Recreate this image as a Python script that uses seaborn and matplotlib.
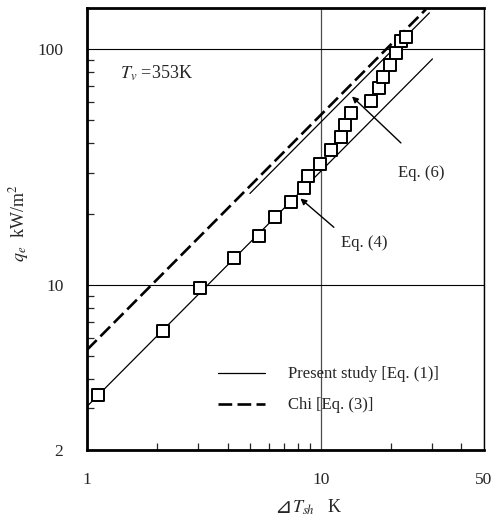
import numpy as np
import pandas as pd
import seaborn as sns
import matplotlib.pyplot as plt
from matplotlib.ticker import FixedLocator, NullFormatter, FixedFormatter

# measured points (superheat K, heat flux kW/m2)
dT_data = [1.11, 2.11, 3.05, 4.27, 5.46, 6.38, 7.44, 8.48, 8.85, 9.93, 11.07,
           12.18, 12.70, 13.44, 16.37, 17.76, 18.42, 19.80, 21.00, 22.06, 23.10]
q_data = [3.43, 6.39, 9.74, 12.99, 16.21, 19.53, 22.55, 25.79, 29.18, 32.63, 37.29,
          42.35, 47.63, 53.8, 60.26, 68.7, 76.5, 86.3, 96.8, 108.5, 112.8]

# correlation lines
dT_eq4 = [1.0, 30.1]
q_eq4 = [3.06, 91.2]
dT_eq6 = [4.98, 29.2]
q_eq6 = [24.5, 143.0]
dT_chi = [1.0, 28.2]
q_chi = [5.32, 148.0]

# annotation anchors (arrow head, arrow tail, text)
eq6_head, eq6_tail, eq6_text = (13.35, 64.4), (22.5, 39.4), (21.4, 30.0)
eq4_head, eq4_tail, eq4_text = (8.02, 23.75), (11.63, 17.3), (12.18, 15.09)

x_ticks = [1, 10, 50]
y_ticks = [2, 10, 100]
x_minor = [2, 3, 4, 5, 6, 7, 8, 9, 20, 30, 40]
y_minor = [3, 4, 5, 6, 7, 8, 9, 20, 30, 40, 50, 60, 70, 80, 90]

sns.set_style("ticks")
plt.rcParams["font.family"] = ["Liberation Serif", "DejaVu Sans"]
plt.rcParams["mathtext.fontset"] = "stix"
plt.rcParams["font.size"] = 12

fig = plt.figure(figsize=(5.02, 5.18), dpi=100)
ax = fig.add_axes([0.1733, 0.1313, 0.7908, 0.8533])

sns.lineplot(x=dT_eq4, y=q_eq4, ax=ax, color="black", lw=0.9,
             label="Present study [Eq. (1)]")
sns.lineplot(x=dT_chi, y=q_chi, ax=ax, color="black", lw=1.9,
             linestyle=(0, (5.2, 2.0)), label="Chi [Eq. (3)]")
sns.lineplot(x=dT_eq6, y=q_eq6, ax=ax, color="black", lw=0.9, legend=False)
sns.scatterplot(x=dT_data, y=q_data, ax=ax, marker="s", s=70,
                facecolor="white", edgecolor="black", linewidth=1.4, zorder=5)

ax.set_xscale("log")
ax.set_yscale("log")
ax.set_xlim(1, 50)
ax.set_ylim(2, 150)

ax.xaxis.set_major_locator(FixedLocator(x_ticks))
ax.xaxis.set_major_formatter(FixedFormatter([str(v) for v in x_ticks]))
ax.yaxis.set_major_locator(FixedLocator(y_ticks))
ax.yaxis.set_major_formatter(FixedFormatter([str(v) for v in y_ticks]))
ax.xaxis.set_minor_locator(FixedLocator(x_minor))
ax.yaxis.set_minor_locator(FixedLocator(y_minor))
ax.xaxis.set_minor_formatter(NullFormatter())
ax.yaxis.set_minor_formatter(NullFormatter())

ax.tick_params(which="major", length=0, labelsize=12.5)
ax.tick_params(axis="x", which="major", pad=16)
ax.tick_params(axis="y", which="major", pad=17)
ax.tick_params(which="minor", direction="in", length=5, width=0.9,
               top=False, right=False)

ax.xaxis.grid(True, which="major", color="0.3", lw=0.9)
ax.yaxis.grid(True, which="major", color="black", lw=0.8)
ax.set_axisbelow(True)

for side in ["left", "bottom", "top"]:
    ax.spines[side].set_linewidth(2.0)
ax.spines["right"].set_linewidth(1.0)
for sp in ax.spines.values():
    sp.set_visible(True)
    sp.set_color("black")

# x label in two pieces: the triangle glyph needs DejaVu Sans
ax.set_xlabel("")
ax.text(0.516, -0.142, "⊿", transform=ax.transAxes, ha="right",
        va="baseline", fontsize=15, family="DejaVu Sans", style="oblique")
ax.text(0.516, -0.142, "$T_{sh}$   K", transform=ax.transAxes, ha="left",
        va="baseline", fontsize=13)
ax.set_ylabel("$q_e$  kW/m$^2$", fontsize=13)
ax.yaxis.set_label_coords(-0.142, 0.514)

ax.text(0.083, 0.853, "$T_v$ =353K", transform=ax.transAxes,
        fontsize=13, va="center", ha="left")

arrow = dict(arrowstyle="-|>", color="black", lw=1.0, mutation_scale=9)
ax.annotate("", xy=eq6_head, xytext=eq6_tail, arrowprops=arrow)
ax.annotate("", xy=eq4_head, xytext=eq4_tail, arrowprops=arrow)
ax.text(*eq6_text, "Eq. (6)", fontsize=12, va="center", ha="left")
ax.text(*eq4_text, "Eq. (4)", fontsize=12, va="center", ha="left")

ax.legend(loc="center left", bbox_to_anchor=(0.33, 0.136), frameon=False,
          borderpad=0, borderaxespad=0, handlelength=2.8, handletextpad=1.4,
          labelspacing=0.9, fontsize=12)

plt.savefig("out.png", dpi=100)
